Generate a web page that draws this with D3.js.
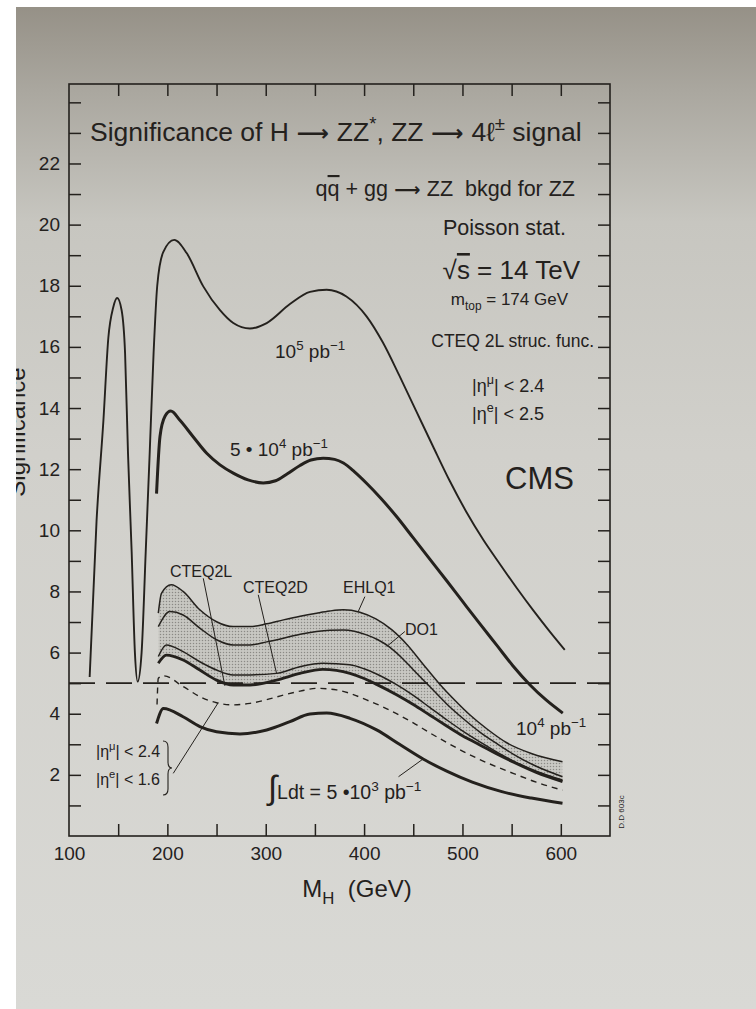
<!DOCTYPE html>
<html>
<head>
<meta charset="utf-8">
<script src="https://cdn.jsdelivr.net/npm/d3@7"></script>
<style>
  body { margin: 0; background: #fff; }
  svg { display: block; font-family: "Liberation Sans", Arial, Helvetica, sans-serif; }
</style>
</head>
<body>
<svg id="chart" width="756" height="1009"></svg>
<script>
// ---- data (M_H in GeV, significance) ----
var massTicks = [150, 200, 250, 300, 350, 400, 450, 500, 550, 600];
var massLabels = [100, 200, 300, 400, 500, 600];
var sigTicks = d3.range(1, 25);
var sigLabels = [2, 4, 6, 8, 10, 12, 14, 16, 18, 20, 22];

// 10^5 pb-1
var m1e5 = [121, 128, 135, 140, 145, 149, 153.5, 157, 160, 163.7, 167, 169.8, 173.8, 178, 182, 186, 189.7, 195.8, 207, 219.6, 236.5, 253.5, 267, 284, 301, 324.6, 345, 362, 382, 402.5, 419, 436, 453, 470, 487, 504, 521, 538, 555, 572, 588, 604];
var s1e5 = [5.2, 10.3, 13.6, 16.3, 17.3, 17.6, 17.2, 15.8, 12.5, 9.3, 6.0, 5.05, 6.0, 9.3, 12.5, 15.8, 18.0, 19.1, 19.5, 19.07, 17.98, 17.2, 16.78, 16.6, 16.78, 17.4, 17.8, 17.87, 17.65, 17.0, 16.15, 15.05, 13.9, 12.75, 11.62, 10.6, 9.7, 8.9, 8.12, 7.38, 6.72, 6.09];

// 5*10^4 pb-1
var m5e4 = [189, 192.5, 197.6, 203.5, 212.8, 226, 240, 253.5, 267, 282, 297.5, 310, 322, 334.8, 346, 358.4, 370, 379, 390, 402.5, 417, 433, 450, 467, 484, 500.7, 517, 534.6, 551, 568.5, 585, 602];
var s5e4 = [11.2, 13.07, 13.73, 13.9, 13.6, 13.07, 12.52, 12.14, 11.87, 11.65, 11.55, 11.62, 11.85, 12.12, 12.3, 12.36, 12.32, 12.2, 11.92, 11.54, 11.05, 10.45, 9.75, 9.05, 8.35, 7.65, 6.97, 6.25, 5.58, 4.95, 4.45, 4.02];

// 10^4 pb-1, different structure functions
var mEHLQ1 = [190.8, 194, 204, 216, 233, 250, 267, 284, 301, 318, 335, 351.7, 365, 379, 395.7, 412, 428, 444, 460, 476, 492, 508, 525, 545, 570, 601.7];
var sEHLQ1 = [7.29, 7.94, 8.22, 8.0, 7.4, 7.01, 6.85, 6.85, 6.94, 7.07, 7.19, 7.29, 7.36, 7.4, 7.32, 7.1, 6.75, 6.25, 5.62, 5.0, 4.45, 3.95, 3.5, 3.05, 2.7, 2.43];

var mDO1 = [190.8, 202.6, 216, 233, 250, 267, 284, 301, 318, 335, 351.7, 365, 379, 390, 402.5, 414, 426, 438, 450, 467, 484, 500, 517.7, 535, 551.5, 575, 601.7];
var sDO1 = [6.85, 7.34, 7.23, 6.8, 6.42, 6.25, 6.25, 6.35, 6.47, 6.6, 6.69, 6.73, 6.74, 6.7, 6.58, 6.42, 6.18, 5.84, 5.44, 4.88, 4.32, 3.86, 3.4, 3.02, 2.68, 2.28, 1.94];

var mCTEQ2D = [190.8, 199, 216, 233, 250, 267, 284, 311, 334.8, 358, 385.6, 400, 412.7, 433, 450, 467, 484, 500, 517.7, 535, 551.5, 575, 601.7];
var sCTEQ2D = [5.87, 6.25, 6.03, 5.7, 5.43, 5.27, 5.27, 5.32, 5.54, 5.65, 5.6, 5.47, 5.3, 4.95, 4.6, 4.2, 3.8, 3.44, 3.08, 2.74, 2.46, 2.12, 1.83];

var mCTEQ2L = [190.8, 199, 216, 233, 250, 267, 284, 311, 334.8, 358, 385.6, 400, 412.7, 433, 450, 467, 484, 500, 517.7, 535, 551.5, 575, 601.7];
var sCTEQ2L = [5.65, 5.92, 5.76, 5.43, 5.1, 4.94, 4.94, 5.1, 5.32, 5.45, 5.32, 5.15, 4.96, 4.62, 4.3, 3.95, 3.6, 3.28, 2.98, 2.68, 2.42, 2.08, 1.78];

// 10^4 pb-1 with |eta_e| < 1.6 (dashed)
var mNarrow = [189.5, 190.8, 196, 216, 233, 250, 267, 284, 301, 318, 335, 351.7, 372, 387, 402.5, 418, 433, 450, 467, 484, 500, 517.7, 535, 551.5, 575, 601.7];
var sNarrow = [4.3, 5.16, 5.24, 4.89, 4.56, 4.36, 4.29, 4.34, 4.46, 4.61, 4.74, 4.83, 4.78, 4.65, 4.45, 4.24, 4.0, 3.7, 3.37, 3.06, 2.78, 2.5, 2.26, 2.05, 1.76, 1.5];

// 5*10^3 pb-1
var m5e3 = [189, 196, 216, 233, 250, 273.8, 301, 324.6, 345, 362, 385.6, 412.7, 436, 460, 484, 510, 540, 570, 601.7];
var s5e3 = [3.68, 4.17, 3.9, 3.58, 3.41, 3.34, 3.47, 3.74, 3.99, 4.02, 3.85, 3.47, 3.0, 2.52, 2.12, 1.76, 1.45, 1.24, 1.07];

var discoveryLevel = 5;

// ---- setup ----
var svg = d3.select("#chart");
var ink = "#24211d";

var x = d3.scaleLinear().domain([100, 650]).range([69, 610]);
var y = d3.scaleLinear().domain([0, 24.6]).range([836, 84]);

// paper background
var defs = svg.append("defs");
var grad = defs.append("linearGradient").attr("id", "paper")
  .attr("x1", 0).attr("y1", 0).attr("x2", 0).attr("y2", 1);
[["0%", "#948f85"], ["9%", "#aaa79f"], ["22%", "#c7c6c0"], ["45%", "#d1d0cb"], ["100%", "#d9d9d5"]]
  .forEach(function(s) { grad.append("stop").attr("offset", s[0]).attr("stop-color", s[1]); });

var stip = defs.append("pattern").attr("id", "stipple")
  .attr("width", 3).attr("height", 3).attr("patternUnits", "userSpaceOnUse");
stip.append("rect").attr("width", 3).attr("height", 3).attr("fill", "rgba(60,58,52,0.08)");
stip.append("circle").attr("cx", 1.5).attr("cy", 1.5).attr("r", 0.75).attr("fill", "rgba(30,28,25,0.36)");

svg.append("rect").attr("width", 756).attr("height", 1009).attr("fill", "url(#paper)");

function pts(ms, vs) { return ms.map(function(m, i) { return [m, vs[i]]; }); }

var line = d3.line()
  .x(function(d) { return x(d[0]); })
  .y(function(d) { return y(d[1]); })
  .curve(d3.curveMonotoneX);

// ---- shaded band between EHLQ1 and CTEQ2L ----
var bandBottom = pts(mCTEQ2L, sCTEQ2L);
defs.append("clipPath").attr("id", "aboveBottom")
  .append("path")
  .attr("d", line(bandBottom) + "L" + x(mCTEQ2L[mCTEQ2L.length - 1]) + "," + y(24.6) +
             "L" + x(mCTEQ2L[0]) + "," + y(24.6) + "Z");
svg.append("path")
  .datum(pts(mEHLQ1, sEHLQ1))
  .attr("d", d3.area()
    .x(function(d) { return x(d[0]); })
    .y0(y(0))
    .y1(function(d) { return y(d[1]); })
    .curve(d3.curveMonotoneX))
  .attr("clip-path", "url(#aboveBottom)")
  .attr("fill", "url(#stipple)");

// ---- dashed 5 sigma line ----
svg.append("line")
  .attr("x1", x(100)).attr("x2", x(650))
  .attr("y1", y(discoveryLevel)).attr("y2", y(discoveryLevel))
  .attr("stroke", ink).attr("stroke-width", 1.8)
  .attr("stroke-dasharray", "26,11");

// ---- curves ----
var curves = [
  { m: m1e5, s: s1e5, w: 1.9 },
  { m: m5e4, s: s5e4, w: 3 },
  { m: mEHLQ1, s: sEHLQ1, w: 1.5 },
  { m: mDO1, s: sDO1, w: 1.5 },
  { m: mCTEQ2D, s: sCTEQ2D, w: 1.5 },
  { m: mCTEQ2L, s: sCTEQ2L, w: 2.8 },
  { m: mNarrow, s: sNarrow, w: 1.4, dash: "6,5" },
  { m: m5e3, s: s5e3, w: 3 }
];
svg.append("g").selectAll("path")
  .data(curves)
  .enter().append("path")
  .attr("d", function(c) { return line(pts(c.m, c.s)); })
  .attr("fill", "none")
  .attr("stroke", ink)
  .attr("stroke-width", function(c) { return c.w; })
  .attr("stroke-dasharray", function(c) { return c.dash || null; })
  .attr("stroke-linejoin", "round");

// ---- frame and axes ----
var tick = 12;
function styleAxis(g) {
  g.select(".domain").remove();
  g.selectAll("line").attr("stroke", ink).attr("stroke-width", 1.5);
  g.selectAll("text").attr("fill", ink).attr("font-size", 19)
    .attr("font-family", "'Liberation Sans', Arial, sans-serif");
}
svg.append("g").attr("transform", "translate(" + x(100) + ",0)")
  .call(d3.axisLeft(y).tickValues(sigTicks).tickSize(-tick).tickFormat(""))
  .call(styleAxis);
svg.append("g").attr("transform", "translate(" + x(650) + ",0)")
  .call(d3.axisRight(y).tickValues(sigTicks).tickSize(-tick).tickFormat(""))
  .call(styleAxis);
svg.append("g").attr("transform", "translate(0," + y(0) + ")")
  .call(d3.axisBottom(x).tickValues(massTicks).tickSize(-tick).tickFormat(""))
  .call(styleAxis);
svg.append("g").attr("transform", "translate(0," + y(24.6) + ")")
  .call(d3.axisTop(x).tickValues(massTicks).tickSize(-tick).tickFormat(""))
  .call(styleAxis);

svg.append("g").attr("transform", "translate(" + (x(100) - 9) + ",0)")
  .call(d3.axisLeft(y).tickValues(sigLabels).tickSize(0).tickPadding(0))
  .call(styleAxis);
svg.append("g").attr("transform", "translate(0," + (y(0) + 10) + ")")
  .call(d3.axisBottom(x).tickValues(massLabels).tickSize(0).tickPadding(0))
  .call(styleAxis);

svg.append("rect")
  .attr("x", x(100)).attr("y", y(24.6))
  .attr("width", x(650) - x(100)).attr("height", y(0) - y(24.6))
  .attr("fill", "none").attr("stroke", ink).attr("stroke-width", 1.6);

// ---- text helpers ----
function rich(px, py, size, parts, anchor) {
  var t = svg.append("text").attr("x", px).attr("y", py)
    .attr("font-size", size).attr("fill", ink)
    .attr("text-anchor", anchor || "start");
  var shift = 0;
  parts.forEach(function(p) {
    var txt = typeof p === "string" ? p : p[0];
    var kind = typeof p === "string" ? "" : p[1];
    var target = kind === "sup" ? -0.42 * size : kind === "sub" ? 0.3 * size : 0;
    var sp = t.append("tspan").text(txt).attr("dy", target - shift);
    shift = target;
    if (kind === "sup" || kind === "sub") sp.attr("font-size", size * 0.7);
    if (kind === "arrow") sp.attr("font-family", "'DejaVu Sans', sans-serif").attr("font-weight", "bold").attr("font-size", size * 0.85);
    if (kind === "over") sp.style("text-decoration", "overline");
    if (kind === "big") sp.attr("font-size", size * 1.7).attr("font-family", "'DejaVu Sans', sans-serif").attr("font-weight", "300");
  });
  return t;
}

function pointer(m1, v1, m2, v2) {
  svg.append("line")
    .attr("x1", x(m1)).attr("y1", y(v1)).attr("x2", x(m2)).attr("y2", y(v2))
    .attr("stroke", ink).attr("stroke-width", 1);
}

// ---- annotations ----
rich(90, 141, 26.5, ["Significance of H", ["\u00a0\u27f6\u00a0", "arrow"], "ZZ", ["*", "sup"], ", ZZ", ["\u00a0\u27f6\u00a0", "arrow"], "4\u2113", ["\u00b1", "sup"], " signal"]);
rich(575, 196, 21.5, ["q", ["q", "over"], " + gg", ["\u00a0\u27f6\u00a0", "arrow"], "ZZ\u00a0 bkgd for ZZ"], "end");
rich(566, 235, 21.5, ["Poisson stat."], "end");
rich(580, 279, 26, ["\u221a", ["s", "over"], " = 14 TeV"], "end");
rich(568, 305, 17, ["m", ["top", "sub"], " = 174 GeV"], "end");
rich(594, 347, 17.5, ["CTEQ 2L struc. func."], "end");
rich(472, 392, 18, ["|\u03b7", ["\u03bc", "sup"], "| < 2.4"]);
rich(472, 420, 18, ["|\u03b7", ["e", "sup"], "| < 2.5"]);
rich(505, 489, 31, ["CMS"]);

rich(275, 358, 19, ["10", ["5", "sup"], " pb", ["\u22121", "sup"]]);
rich(230, 456, 19, ["5 \u2022 10", ["4", "sup"], " pb", ["\u22121", "sup"]]);
rich(516, 735, 19, ["10", ["4", "sup"], " pb", ["\u22121", "sup"]]);

rich(170, 577, 16, ["CTEQ2L"]);
rich(243, 593, 16, ["CTEQ2D"]);
rich(343, 593, 16, ["EHLQ1"]);
rich(405, 635, 16, ["DO1"]);

rich(96, 757, 16, ["|\u03b7", ["\u03bc", "sup"], "| < 2.4"]);
rich(96, 785, 16, ["|\u03b7", ["e", "sup"], "| < 1.6"]);
rich(268, 799, 19.5, [["\u222b", "big"], "Ldt = 5 \u202210", ["3", "sup"], " pb", ["\u22121", "sup"]]);

// brace
svg.append("path")
  .attr("d", "M163,741 Q168,741 168,747 L168,762 Q168,768 172,768 Q168,768 168,774 L168,789 Q168,795 163,795")
  .attr("fill", "none").attr("stroke", ink).attr("stroke-width", 1.1);

pointer(236.5, 8.43, 258.5, 4.91);   // CTEQ2L
pointer(292.4, 7.89, 311, 5.32);     // CTEQ2D
pointer(400.8, 7.83, 394, 7.34);     // EHLQ1
pointer(441.5, 6.69, 423, 6.2);      // DO1
pointer(206, 2.05, 251.7, 4.36);     // |eta_e| < 1.6
pointer(435, 1.94, 460, 2.52);       // 5e3

svg.append("text").attr("transform", "translate(624,812) rotate(-90)")
  .attr("text-anchor", "middle").attr("font-size", 8).attr("fill", ink).text("D.D 603c");

// axis titles
rich(357, 897, 24, ["M", ["H", "sub"], "\u00a0 (GeV)"], "middle");
svg.append("text").attr("transform", "translate(25,432) rotate(-90)")
  .attr("text-anchor", "middle").attr("font-size", 24).attr("fill", ink).text("Significance");

// photo edges
svg.append("rect").attr("x", 0).attr("y", 0).attr("width", 16).attr("height", 1009).attr("fill", "#ffffff");
svg.append("rect").attr("x", 0).attr("y", 0).attr("width", 756).attr("height", 7).attr("fill", "#ffffff");
</script>
</body>
</html>
